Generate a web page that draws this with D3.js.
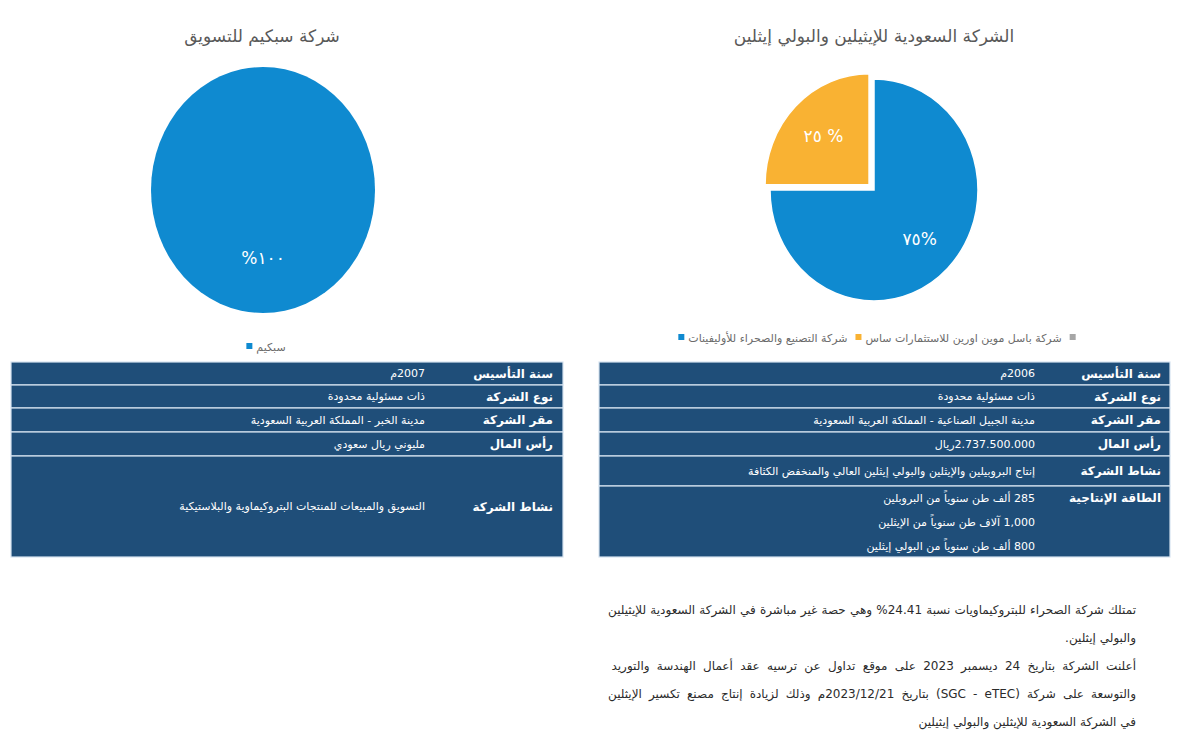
<!DOCTYPE html>
<html><head><meta charset="utf-8">
<script src="https://cdn.jsdelivr.net/npm/d3@7"></script>
<style>body{margin:0;background:#fff} svg{display:block;font-family:"DejaVu Sans",sans-serif}</style>
</head><body><svg id="c" width="1200" height="745"></svg>
<script>
// ---- data ----
const leftTitle = "شركة سبكيم للتسويق";
const rightTitle = "الشركة السعودية للإيثيلين والبولي إيثلين";
const leftPieCategories = ["سبكيم"];
const leftPieValues = [100];
const leftPieLabels = ["%١٠٠"];
const rightPieCategories = ["شركة التصنيع والصحراء للأوليفينات", "شركة باسل موين اورين للاستثمارات ساس", ""];
const rightPieValues = [75, 25, 0];
const rightPieLabels = ["٧٥%", "٢٥ %", ""];
const leftTableLabels = ["سنة التأسيس", "نوع الشركة", "مقر الشركة", "رأس المال", "نشاط الشركة"];
const leftTableValues = [["2007م"], ["ذات مسئولية محدودة"], ["مدينة الخبر - المملكة العربية السعودية"], ["مليوني ريال سعودي"], ["التسويق والمبيعات للمنتجات البتروكيماوية والبلاستيكية"]];
const rightTableLabels = ["سنة التأسيس", "نوع الشركة", "مقر الشركة", "رأس المال", "نشاط الشركة", "الطاقة الإنتاجية"];
const rightTableValues = [["2006م"], ["ذات مسئولية محدودة"], ["مدينة الجبيل الصناعية - المملكة العربية السعودية"], ["2.737.500.000ريال"], ["إنتاج  البروبيلين والإيثلين والبولي إيثلين العالي والمنخفض الكثافة"], ["285 ألف طن سنوياً من البروبلين", "1,000 آلاف طن سنوياً من الإيثلين", "800 ألف طن سنوياً من البولي إيثلين"]];
const noteLines = [
  "تمتلك شركة الصحراء للبتروكيماويات نسبة 24.41% وهي حصة غير مباشرة في الشركة السعودية للإيثيلين",
  "والبولي إيثلين.",
  "أعلنت الشركة بتاريخ 24 ديسمبر 2023  على موقع تداول عن ترسيه عقد أعمال الهندسة والتوريد",
  "والتوسعة على شركة (SGC - eTEC) بتاريخ 2023/12/21م وذلك لزيادة إنتاج مصنع تكسير الإيثلين",
  "في الشركة السعودية للإيثلين والبولي إيثيلين"
];

// ---- styles ----
const BLUE = "#0f8ad0", ORANGE = "#f9b233", GRAY = "#a6a6a6", NAVY = "#1f4e79";
const colors = [BLUE, ORANGE, GRAY];
const svg = d3.select("#c");

// titles
svg.append("text").attr("x", 262).attr("y", 42).attr("text-anchor", "middle")
  .attr("font-size", 17).attr("fill", "#595959").text(leftTitle);
svg.append("text").attr("x", 874).attr("y", 42).attr("text-anchor", "middle")
  .attr("font-size", 17).attr("fill", "#595959").text(rightTitle);

// pies
function drawPie(cx, cy, rx, ry, values, labels, explodeIdx, explode, labelR) {
  const pie = d3.pie().sort(null).value(d => d)(values);
  const arc = d3.arc().innerRadius(0).outerRadius(rx);
  const g = svg.append("g").attr("transform", `translate(${cx},${cy}) scale(1,${ry / rx})`);
  pie.forEach((p, i) => {
    if (p.value === 0) return;
    const mid = (p.startAngle + p.endAngle) / 2;
    const off = i === explodeIdx ? explode : 0;
    g.append("path").attr("d", arc(p))
      .attr("transform", `translate(${Math.sin(mid) * off},${-Math.cos(mid) * off})`)
      .attr("fill", colors[i]).attr("stroke", "#fff").attr("stroke-width", values.length > 1 ? 1.5 : 0);
    const lr = labelR * rx + off;
    svg.append("text")
      .attr("x", cx + Math.sin(mid) * lr)
      .attr("y", cy - Math.cos(mid) * lr * ry / rx)
      .attr("dy", "0.35em").attr("text-anchor", "middle")
      .attr("direction", "ltr")
      .attr("font-size", 17).attr("fill", "#fff").text(labels[i]);
  });
}
drawPie(263, 190, 112, 123, leftPieValues, leftPieLabels, -1, 0, 0.55);
drawPie(874, 190, 104, 111, rightPieValues, rightPieLabels, 1, 7, 0.62);

// legends
function drawLegend(cxCenter, y, cats) {
  const g = svg.append("g");
  let x = 0;
  cats.forEach((c, i) => {
    g.append("rect").attr("x", x).attr("y", y - 4).attr("width", 6).attr("height", 6).attr("fill", colors[i]);
    x += 10;
    if (c) {
      const t = g.append("text").attr("x", x).attr("y", y).attr("dy", "0.35em")
        .attr("font-size", 11).attr("fill", "#6b6b6b").text(c);
      x += t.node().getComputedTextLength() + 8;
    }
  });
  const w = g.node().getBBox().width;
  g.attr("transform", `translate(${cxCenter - w / 2},0)`);
}
drawLegend(266, 347, leftPieCategories);
drawLegend(877, 338, rightPieCategories);

// tables
function drawTable(x0, x1, y0, rowH, labels, values, labelRight, valueRight) {
  const g = svg.append("g");
  let y = y0;
  labels.forEach((lab, i) => {
    const h = rowH[i];
    g.append("rect").attr("x", x0).attr("y", y).attr("width", x1 - x0).attr("height", h)
      .attr("fill", NAVY).attr("stroke", "#d6e3f0").attr("stroke-width", 1.2);
    const lines = values[i];
    const multi = lines.length > 1;
    const labY = multi ? y + 12 : y + h / 2;
    g.append("text").attr("x", labelRight).attr("y", labY).attr("dy", "0.35em")
      .attr("direction", "rtl").attr("text-anchor", "start")
      .attr("font-size", 12).attr("font-weight", "bold").attr("fill", "#fff").text(lab);
    lines.forEach((v, j) => {
      g.append("text").attr("x", valueRight)
        .attr("y", multi ? y + 12 + j * 24 : y + h / 2).attr("dy", "0.35em")
        .attr("direction", "rtl").attr("text-anchor", "start")
        .attr("font-size", 11).attr("fill", "#fff").text(v);
    });
    y += h;
  });
}
drawTable(11, 563, 362, [23, 23, 24, 24, 101], leftTableLabels, leftTableValues, 553, 425);
drawTable(599, 1170, 362, [23, 23, 24, 24, 30, 71], rightTableLabels, rightTableValues, 1161, 1035);

// note paragraph (RTL, justified full lines)
const noteRight = 1136, noteWidth = 528;
noteLines.forEach((l, i) => {
  const t = svg.append("text").attr("x", noteRight).attr("y", 614 + i * 28)
    .attr("direction", "rtl").attr("text-anchor", "start")
    .attr("font-size", 12).attr("fill", "#2b2b2b").text(l);
  const w = t.node().getComputedTextLength();
  const spaces = (l.match(/ /g) || []).length;
  if (w > noteWidth * 0.8 && spaces) t.attr("word-spacing", (noteWidth - w) / spaces);
});
</script></body></html>
